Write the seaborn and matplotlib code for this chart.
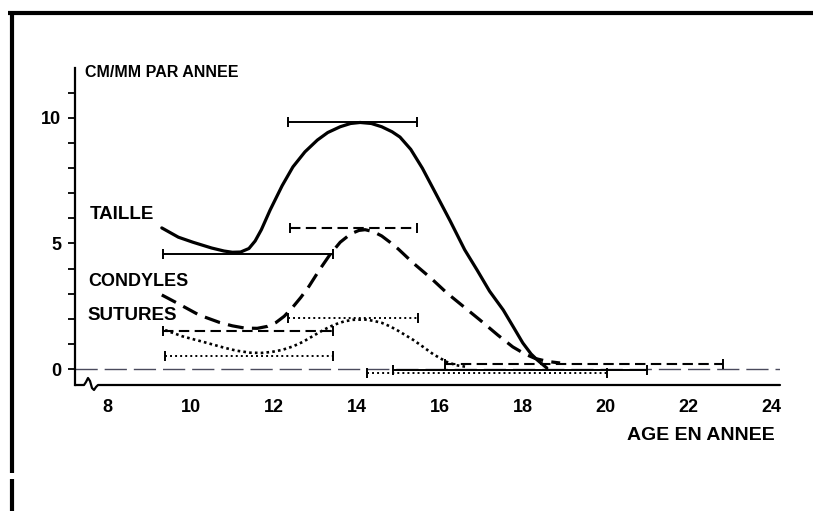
import matplotlib
matplotlib.use("Agg")
import matplotlib.pyplot as plt
from matplotlib.lines import Line2D
import seaborn as sns
import pandas as pd

# ---------------- data ----------------
taille_age = [9.3, 9.7, 10.05, 10.5, 10.8, 11.0, 11.2, 11.4, 11.55, 11.7, 11.91, 12.2,
              12.46, 12.75, 13.05, 13.3, 13.6, 13.85, 14.08, 14.35, 14.6, 14.85, 15.04,
              15.3, 15.58, 15.9, 16.25, 16.6, 16.9, 17.2, 17.53, 17.8, 18.0, 18.2,
              18.35, 18.58]
taille_val = [5.62, 5.25, 5.05, 4.82, 4.7, 4.65, 4.66, 4.8, 5.1, 5.55, 6.33, 7.3,
              8.05, 8.65, 9.12, 9.42, 9.65, 9.78, 9.82, 9.78, 9.65, 9.45, 9.24,
              8.75, 8.0, 7.0, 5.9, 4.75, 3.94, 3.1, 2.35, 1.6, 1.04, 0.6,
              0.36, 0.04]

condyles_age = [9.3, 9.7, 10.2, 10.7, 11.0, 11.3, 11.6, 11.85, 12.05, 12.25, 12.45,
                12.65, 12.85, 13.1, 13.35, 13.6, 13.85, 14.05, 14.2, 14.4, 14.6, 14.8,
                15.0, 15.36, 15.8, 16.17, 16.6, 16.97, 17.4, 17.76, 18.05, 18.3,
                18.6, 18.9]
condyles_val = [2.95, 2.6, 2.15, 1.85, 1.72, 1.63, 1.62, 1.7, 1.85, 2.1, 2.45,
                2.85, 3.3, 3.95, 4.55, 5.05, 5.38, 5.52, 5.55, 5.47, 5.3, 5.05,
                4.78, 4.22, 3.6, 3.03, 2.45, 1.95, 1.35, 0.88, 0.6, 0.42,
                0.3, 0.24]

sutures_age = [9.38, 9.8, 10.3, 10.8, 11.1, 11.43, 11.7, 11.95, 12.2, 12.46, 12.7,
               12.95, 13.2, 13.45, 13.7, 13.91, 14.2, 14.4, 14.6, 14.8, 15.0, 15.36,
               15.6, 15.85, 16.17, 16.4, 16.66]
sutures_val = [1.55, 1.3, 1.08, 0.85, 0.73, 0.65, 0.64, 0.68, 0.76, 0.9, 1.08,
               1.32, 1.56, 1.76, 1.9, 1.96, 1.97, 1.92, 1.84, 1.7, 1.52, 1.16,
               0.88, 0.58, 0.28, 0.15, 0.08]

# horizontal range bars: (start age, end age, level)
taille_bars = [(12.34, 15.45, 9.84), (9.33, 13.43, 4.58), (14.87, 21.0, -0.03)]
condyles_bars = [(12.39, 15.45, 5.62), (9.33, 13.43, 1.50), (16.12, 22.83, 0.20)]
sutures_bars = [(12.34, 15.47, 2.03), (9.38, 13.43, 0.52), (14.25, 20.03, -0.17)]

x_ticks = [8, 10, 12, 14, 16, 18, 20, 22, 24]
y_major = [0, 5, 10]
y_minor = [1, 2, 3, 4, 6, 7, 8, 9, 11]
series_labels = ["TAILLE", "CONDYLES", "SUTURES"]
y_title = "CM/MM PAR ANNEE"
x_title = "AGE EN ANNEE"

# ---------------- styling ----------------
sns.set_style("white")
plt.rcParams["font.family"] = ["Liberation Sans", "DejaVu Sans"]
plt.rcParams["font.weight"] = "bold"
for k in ["text.color", "axes.labelcolor", "xtick.color", "ytick.color", "axes.edgecolor"]:
    plt.rcParams[k] = "black"

W, H = 813, 511
fig = plt.figure(figsize=(W / 100, H / 100), dpi=100)
ax = fig.add_axes([75 / W, 126 / H, 705 / W, 317 / H])
ax.set_xlim(7.208, 24.2)
ax.set_ylim(-0.637, 11.99)

SOLID = "-"
DASH = (0, (5, 2.6))
DOT = (0, (1, 1.2))

styles = [SOLID, DASH, DOT]
curves = [(taille_age, taille_val), (condyles_age, condyles_val), (sutures_age, sutures_val)]
bars = [taille_bars, condyles_bars, sutures_bars]
curve_lw = [2.3, 2.3, 1.9]
bar_lw = [1.4, 1.5, 1.4]
bar_ls = [SOLID, (0, (5, 2.6)), (0, (1, 1.6))]

# zero reference line
ax.axhline(0, color="#4a4a5c", lw=1.0, ls=(0, (16, 5)), zorder=1)

for (xs, ys), ls, lw in zip(curves, styles, curve_lw):
    df = pd.DataFrame({"age": xs, "val": ys})
    sns.lineplot(data=df, x="age", y="val", ax=ax, color="black", lw=lw,
                 linestyle=ls, sort=False, zorder=3,
                 solid_joinstyle="round", dash_joinstyle="round")

for blist, ls, lw in zip(bars, bar_ls, bar_lw):
    for x0, x1, lev in blist:
        ax.plot([x0, x1], [lev, lev], color="black", lw=lw, ls=ls, zorder=2)
        ax.plot([x0, x1], [lev, lev], ls="none", marker="|", ms=7, mew=1.4,
                color="black", zorder=2)

# axes cosmetics
for s in ["top", "right", "bottom"]:
    ax.spines[s].set_visible(False)
ax.spines["left"].set_linewidth(1.6)
ax.spines["left"].set_color("black")

ax.set_xticks(x_ticks)
ax.set_xticklabels([str(t) for t in x_ticks])
ax.set_yticks(y_major)
ax.set_yticklabels([str(t) for t in y_major])
ax.set_yticks(y_minor, minor=True)
ax.tick_params(axis="x", length=0, pad=10, labelsize=13)
ax.tick_params(axis="y", which="both", direction="out", length=5, width=1.3,
               left=True, pad=5, labelsize=13, color="black")
ax.set_xlabel("")
ax.set_ylabel("")
for lab in ax.get_xticklabels() + ax.get_yticklabels():
    lab.set_fontweight("bold")

# broken x axis line with the small squiggle (decoration)
sq_px = [75, 84, 86, 88, 90, 92, 94, 96, 98, 780]
sq_py = [385, 385, 382, 378, 381, 388, 390, 387, 385, 385]
ax.plot([(p - 75) / 705 for p in sq_px], [(385 - q) / 317 for q in sq_py],
        transform=ax.transAxes, color="black", lw=1.6, clip_on=False, zorder=4)

# text labels
ax.text(7.45, 11.8, y_title, ha="left", va="center", fontsize=11.5, fontweight="bold")
ax.text(7.57, 6.14, series_labels[0], ha="left", va="center", fontsize=13.5, fontweight="bold")
ax.text(7.52, 3.50, series_labels[1], ha="left", va="center", fontsize=13, fontweight="bold")
ax.text(7.52, 2.15, series_labels[2], ha="left", va="center", fontsize=13.5, fontweight="bold")
ax.text(24.08, -2.63, x_title, ha="right", va="center", fontsize=14, fontweight="bold",
        clip_on=False)

# scanned-page frame lines (decoration)
fig.add_artist(Line2D([8 / W, 1.0], [1 - 13 / H, 1 - 13 / H], color="black", lw=3.0,
                      solid_capstyle="butt"))
fig.add_artist(Line2D([12 / W, 12 / W], [1 - 11 / H, 1 - 473 / H], color="black", lw=3.0,
                      solid_capstyle="butt"))
fig.add_artist(Line2D([12 / W, 12 / W], [1 - 479 / H, 0.0], color="black", lw=3.0,
                      solid_capstyle="butt"))

fig.savefig("out.png", dpi=100, facecolor="white")
